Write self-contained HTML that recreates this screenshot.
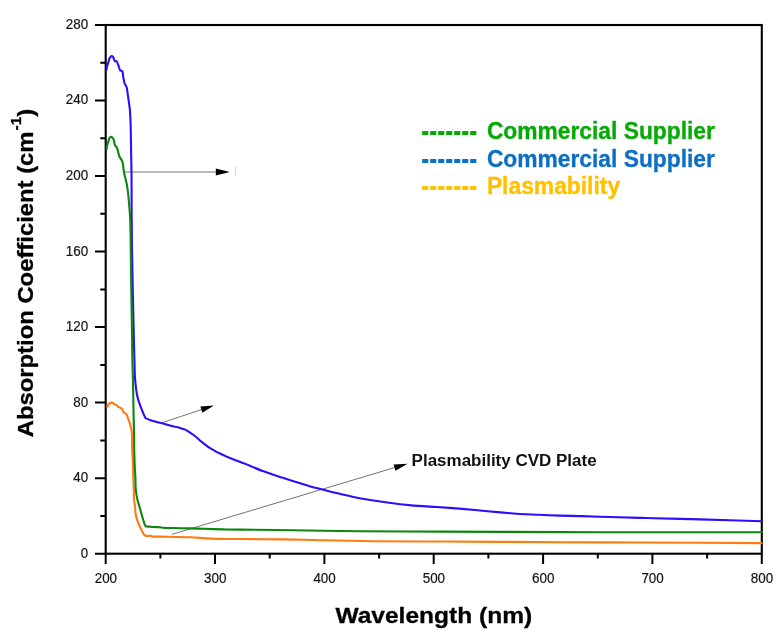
<!DOCTYPE html>
<html lang="en"><head><meta charset="utf-8"><title>Absorption Coefficient vs Wavelength</title>
<style>
html,body{margin:0;padding:0;background:#fff;}
body{width:783px;height:643px;overflow:hidden;}
svg{display:block;}
text{font-family:"Liberation Sans",sans-serif;}
.tk{font-size:14px;fill:#151515;stroke:#151515;stroke-width:0.2px;}
.ttl{font-size:22.5px;font-weight:bold;fill:#000;stroke:#000;stroke-width:0.3px;}
.lg{font-weight:bold;}
</style></head><body>
<svg width="783" height="643" viewBox="0 0 783 643">
<rect x="0" y="0" width="783" height="643" fill="#ffffff"/>
<rect x="105.7" y="25.0" width="656.1" height="528.7" fill="none" stroke="#000" stroke-width="2.1"/>
<path d="M95 553.7H105.7M100.3 515.9H105.7M95 478.2H105.7M100.3 440.4H105.7M95 402.6H105.7M100.3 364.9H105.7M95 327.1H105.7M100.3 289.4H105.7M95 251.6H105.7M100.3 213.8H105.7M95 176.1H105.7M100.3 138.3H105.7M95 100.5H105.7M100.3 62.8H105.7M95 25.0H105.7M105.7 553.7V564M160.4 553.7V558.6M215.0 553.7V564M269.7 553.7V558.6M324.4 553.7V564M379.1 553.7V558.6M433.7 553.7V564M488.4 553.7V558.6M543.1 553.7V564M597.8 553.7V558.6M652.4 553.7V564M707.1 553.7V558.6M761.8 553.7V564" stroke="#000" stroke-width="2" fill="none"/>
<text class="tk" x="80.8" y="557.6" textLength="7.4" lengthAdjust="spacingAndGlyphs">0</text>
<text class="tk" x="73.3" y="482.1" textLength="14.9" lengthAdjust="spacingAndGlyphs">40</text>
<text class="tk" x="73.3" y="406.5" textLength="14.9" lengthAdjust="spacingAndGlyphs">80</text>
<text class="tk" x="65.8" y="331.0" textLength="22.4" lengthAdjust="spacingAndGlyphs">120</text>
<text class="tk" x="65.8" y="255.5" textLength="22.4" lengthAdjust="spacingAndGlyphs">160</text>
<text class="tk" x="65.8" y="180.0" textLength="22.4" lengthAdjust="spacingAndGlyphs">200</text>
<text class="tk" x="65.8" y="104.4" textLength="22.4" lengthAdjust="spacingAndGlyphs">240</text>
<text class="tk" x="65.8" y="28.9" textLength="22.4" lengthAdjust="spacingAndGlyphs">280</text>
<text class="tk" x="94.7" y="583" textLength="22.4" lengthAdjust="spacingAndGlyphs">200</text>
<text class="tk" x="204.0" y="583" textLength="22.4" lengthAdjust="spacingAndGlyphs">300</text>
<text class="tk" x="313.4" y="583" textLength="22.4" lengthAdjust="spacingAndGlyphs">400</text>
<text class="tk" x="422.7" y="583" textLength="22.4" lengthAdjust="spacingAndGlyphs">500</text>
<text class="tk" x="532.1" y="583" textLength="22.4" lengthAdjust="spacingAndGlyphs">600</text>
<text class="tk" x="641.4" y="583" textLength="22.4" lengthAdjust="spacingAndGlyphs">700</text>
<text class="tk" x="750.8" y="583" textLength="22.4" lengthAdjust="spacingAndGlyphs">800</text>
<line x1="124.9" y1="172.0" x2="216.8" y2="172.0" stroke="#747474" stroke-width="1"/>
<polygon points="229.8,172.0 215.8,175.5 215.8,168.5" fill="#000"/>
<line x1="163.0" y1="422.4" x2="202.3" y2="409.3" stroke="#747474" stroke-width="1"/>
<polygon points="213.9,405.5 202.4,412.7 200.4,406.6" fill="#000"/>
<line x1="172.0" y1="534.3" x2="395.5" y2="467.3" stroke="#747474" stroke-width="1"/>
<polygon points="407.5,463.7 395.5,470.7 393.6,464.4" fill="#000"/>
<rect x="234.8" y="166.5" width="1" height="8.4" fill="#ecd2b8"/>
<path fill="none" stroke="#2e0cff" stroke-width="2.1" stroke-linejoin="round" d="M106.6 70.3C106.6 69.8 106.8 67.3 106.9 66.5C107.1 65.7 107.5 65.1 107.8 64.2C108.1 63.3 108.9 60.1 109.2 59.2C109.5 58.3 110.2 57.2 110.5 56.8C110.8 56.4 111.4 56.1 111.7 56.1C112.0 56.1 112.8 56.5 113.2 57.1C113.6 57.7 114.3 60.5 114.8 61.0C115.2 61.5 116.3 60.8 116.8 61.5C117.3 62.2 118.3 65.3 118.7 66.4C119.1 67.5 119.7 69.7 120.2 70.3C120.7 70.9 122.1 70.7 122.5 71.6C122.9 72.5 123.0 75.8 123.3 77.3C123.6 78.8 124.2 82.2 124.6 83.5C125.0 84.8 126.3 85.8 126.7 87.4C127.1 89.0 127.6 93.2 128.0 96.0C128.4 98.8 129.6 106.5 129.9 110.0C130.2 113.5 130.4 118.9 130.6 124.0C130.8 129.1 131.0 144.9 131.1 151.0C131.2 157.1 131.4 166.8 131.5 172.9C131.6 179.0 131.6 194.2 131.6 200.0C131.6 205.8 131.6 213.2 131.7 219.5C131.8 225.8 131.9 241.2 132.0 250.0C132.1 258.8 132.6 278.8 132.8 290.0C133.0 301.2 133.7 330.5 133.9 340.0C134.1 349.5 134.5 361.2 134.6 366.0C134.7 370.8 134.8 375.5 135.0 378.0C135.2 380.5 135.6 384.2 135.8 386.2C136.0 388.2 136.6 392.4 136.9 394.0C137.2 395.6 137.6 397.8 138.1 399.4C138.6 401.0 140.1 405.3 140.8 407.2C141.5 409.1 143.0 412.8 143.6 414.2C144.2 415.6 145.5 418.1 145.5 418.1C145.5 418.1 149.6 419.8 151.3 420.4C153.0 421.0 157.6 422.2 159.1 422.6C160.6 423.0 161.6 423.1 163.0 423.5C164.4 423.9 168.5 425.1 170.0 425.5C171.5 425.9 173.8 426.4 175.1 426.8C176.4 427.1 178.9 427.6 180.2 428.0C181.5 428.4 184.0 429.0 185.3 429.6C186.6 430.2 189.1 432.0 190.4 432.9C191.7 433.8 194.2 435.5 195.5 436.5C196.8 437.5 199.4 440.0 200.7 441.1C202.0 442.1 204.5 444.1 205.8 445.1C207.1 446.1 209.6 447.9 210.9 448.7C212.2 449.5 214.7 450.9 216.0 451.6C217.3 452.3 219.8 453.4 221.1 454.0C222.4 454.6 224.9 455.8 226.2 456.4C227.5 456.9 230.0 457.9 231.3 458.4C232.6 458.9 235.1 460.0 236.4 460.5C237.7 461.0 240.2 461.9 241.5 462.4C242.8 462.9 243.9 463.3 246.6 464.4C249.3 465.5 258.6 469.5 262.9 471.1C267.2 472.7 276.3 475.9 280.8 477.3C285.3 478.8 294.1 481.3 298.6 482.7C303.1 484.1 312.0 486.9 316.5 488.1C321.0 489.3 329.9 491.4 334.4 492.5C338.9 493.6 347.8 495.8 352.3 496.7C356.8 497.6 366.1 499.3 370.2 500.0C374.3 500.7 380.4 501.6 385.5 502.3C390.6 503.0 404.7 504.8 411.1 505.4C417.5 506.0 430.2 506.6 436.6 507.0C443.0 507.4 455.8 508.4 462.2 508.9C468.6 509.4 481.3 510.6 487.7 511.2C494.1 511.8 506.9 513.0 513.3 513.5C519.7 514.0 533.0 514.5 538.8 514.8C544.6 515.1 552.4 515.4 560.0 515.6C567.6 515.8 590.0 516.4 600.0 516.7C610.0 517.0 633.2 517.7 640.0 517.9C646.8 518.1 646.5 518.0 654.0 518.2C661.5 518.4 686.5 519.0 700.0 519.4C713.5 519.8 754.5 521.0 762.3 521.2"/>
<path fill="none" stroke="#ff7a10" stroke-width="2.1" stroke-linejoin="round" d="M106.4 406.9C106.6 406.8 107.6 406.3 107.9 405.9C108.2 405.5 108.7 403.8 109.2 403.4C109.6 403.0 110.8 402.7 111.3 402.6C111.8 402.6 112.8 402.8 113.2 403.0C113.6 403.2 113.9 404.0 114.4 404.3C114.9 404.6 116.4 405.0 116.9 405.3C117.4 405.6 117.6 406.4 118.2 406.8C118.8 407.2 121.2 408.0 121.9 408.7C122.6 409.4 122.9 411.4 123.5 412.1C124.1 412.8 126.0 413.5 126.6 414.3C127.2 415.1 127.8 417.7 128.2 418.8C128.6 419.9 129.5 422.3 129.9 423.5C130.3 424.7 130.9 427.2 131.2 428.5C131.4 429.8 131.8 432.3 131.9 434.0C132.0 435.7 132.1 440.0 132.1 442.0C132.1 444.0 132.1 447.1 132.2 450.0C132.3 452.9 132.9 461.5 133.0 465.0C133.1 468.5 133.2 474.9 133.3 478.0C133.4 481.1 133.7 487.2 133.8 490.0C133.9 492.8 133.9 497.8 134.1 500.0C134.3 502.2 135.0 506.4 135.2 508.0C135.4 509.6 135.3 511.7 135.5 513.0C135.7 514.3 136.3 517.4 136.7 518.6C137.0 519.8 137.8 521.7 138.3 522.9C138.8 524.1 139.9 526.8 140.4 527.9C140.9 529.0 141.8 530.8 142.3 531.6C142.8 532.5 143.7 534.2 144.2 534.7C144.7 535.2 146.0 536.0 146.0 536.0C146.0 536.0 150.1 535.8 151.0 535.9C151.9 536.0 150.8 536.5 152.9 536.6C155.0 536.7 163.2 536.6 168.0 536.7C172.8 536.8 186.5 537.1 191.0 537.3C195.5 537.5 200.8 538.0 204.0 538.2C207.2 538.4 212.1 538.8 216.6 538.9C221.1 539.0 231.9 538.9 240.0 539.0C248.1 539.1 270.8 539.2 281.0 539.4C291.2 539.5 310.5 540.0 322.0 540.2C333.5 540.4 358.2 541.0 373.0 541.2C387.8 541.4 416.6 541.4 440.0 541.5C463.4 541.6 535.0 542.1 560.0 542.2C585.0 542.3 614.7 542.4 640.0 542.5C665.3 542.6 747.0 543.0 762.3 543.1"/>
<path fill="none" stroke="#0c860c" stroke-width="2.1" stroke-linejoin="round" d="M106.6 149.8C106.6 149.4 106.8 147.3 106.9 146.5C107.1 145.7 107.5 144.3 107.8 143.3C108.1 142.3 109.0 139.1 109.3 138.3C109.6 137.5 110.2 137.2 110.5 137.0C110.8 136.8 111.2 136.5 111.6 136.8C112.0 137.1 113.3 138.6 113.7 139.6C114.1 140.6 114.4 143.8 114.8 144.9C115.2 146.0 116.5 146.6 117.1 148.0C117.7 149.4 118.7 154.8 119.4 156.5C120.1 158.2 121.9 159.9 122.5 162.0C123.1 164.1 123.6 170.2 124.1 172.9C124.6 175.6 126.2 180.9 126.7 183.8C127.2 186.7 128.1 193.0 128.4 196.0C128.7 199.0 129.2 205.1 129.4 208.0C129.6 210.9 130.0 213.8 130.2 219.0C130.4 224.2 130.7 241.1 130.8 250.0C130.9 258.9 131.1 278.8 131.3 290.0C131.5 301.2 131.9 330.5 132.1 340.0C132.2 349.5 132.4 361.0 132.5 366.0C132.6 371.0 132.9 375.1 133.0 380.0C133.1 384.9 133.3 400.0 133.4 405.0C133.5 410.0 133.6 416.1 133.7 420.0C133.8 423.9 134.0 432.2 134.1 436.0C134.2 439.8 134.1 446.4 134.2 450.0C134.3 453.6 134.5 461.5 134.7 465.0C134.8 468.5 135.3 474.9 135.4 478.0C135.5 481.1 135.5 487.2 135.8 490.0C136.1 492.8 137.0 497.8 137.5 500.0C138.0 502.2 139.3 506.3 139.8 508.0C140.3 509.7 141.0 512.1 141.4 513.6C141.8 515.1 142.8 518.4 143.2 519.8C143.6 521.2 144.5 524.0 144.8 524.8C145.2 525.6 146.0 526.5 146.0 526.5C146.0 526.5 148.9 526.5 149.8 526.6C150.7 526.7 151.6 526.9 152.9 527.0C154.2 527.1 159.1 527.1 160.3 527.2C161.5 527.3 160.8 527.6 162.2 527.7C163.6 527.8 168.3 527.9 171.9 528.0C175.5 528.1 187.1 528.3 191.1 528.4C195.1 528.5 199.9 528.7 203.9 528.8C207.9 528.9 218.5 529.3 223.0 529.4C227.5 529.5 229.2 529.5 240.0 529.6C250.8 529.7 294.0 530.3 309.0 530.5C324.0 530.7 343.6 531.1 360.0 531.2C376.4 531.3 415.0 531.5 440.0 531.6C465.0 531.7 535.0 532.0 560.0 532.1C585.0 532.2 614.7 532.2 640.0 532.2C665.3 532.2 747.0 532.3 762.3 532.3"/>
<text x="411.6" y="465.8" font-size="17.4" font-weight="bold" fill="#111" textLength="185" lengthAdjust="spacingAndGlyphs">Plasmability CVD Plate</text>
<text class="lg" transform="translate(0,132.75) scale(1,1.35) translate(0,-132.75)" x="421.2" y="139.49" font-size="24" fill="#06aa06">-------</text>
<text class="lg" x="486.9" y="138.7" font-size="23" fill="#06aa06" stroke="#06aa06" stroke-width="0.3" textLength="228.0" lengthAdjust="spacingAndGlyphs">Commercial Supplier</text>
<text class="lg" transform="translate(0,160.75) scale(1,1.35) translate(0,-160.75)" x="421.2" y="167.49" font-size="24" fill="#0b6fc4">-------</text>
<text class="lg" x="486.9" y="166.5" font-size="23" fill="#0b6fc4" stroke="#0b6fc4" stroke-width="0.3" textLength="228.0" lengthAdjust="spacingAndGlyphs">Commercial Supplier</text>
<text class="lg" transform="translate(0,187.6) scale(1,1.35) translate(0,-187.6)" x="421.2" y="194.34" font-size="24" fill="#ffc000">-------</text>
<text class="lg" x="486.9" y="193.6" font-size="23" fill="#ffc000" stroke="#ffc000" stroke-width="0.3" textLength="133.2" lengthAdjust="spacingAndGlyphs">Plasmability</text>
<text class="ttl" x="335.4" y="622.8" textLength="196.8" lengthAdjust="spacingAndGlyphs">Wavelength (nm)</text>
<text class="ttl" transform="translate(33.4,437.3) rotate(-90)" textLength="328.5" lengthAdjust="spacingAndGlyphs">Absorption Coefficient (cm<tspan font-size="14.5" dx="1" dy="-12.8">-1</tspan><tspan dy="12.8">)</tspan></text>
</svg></body></html>
